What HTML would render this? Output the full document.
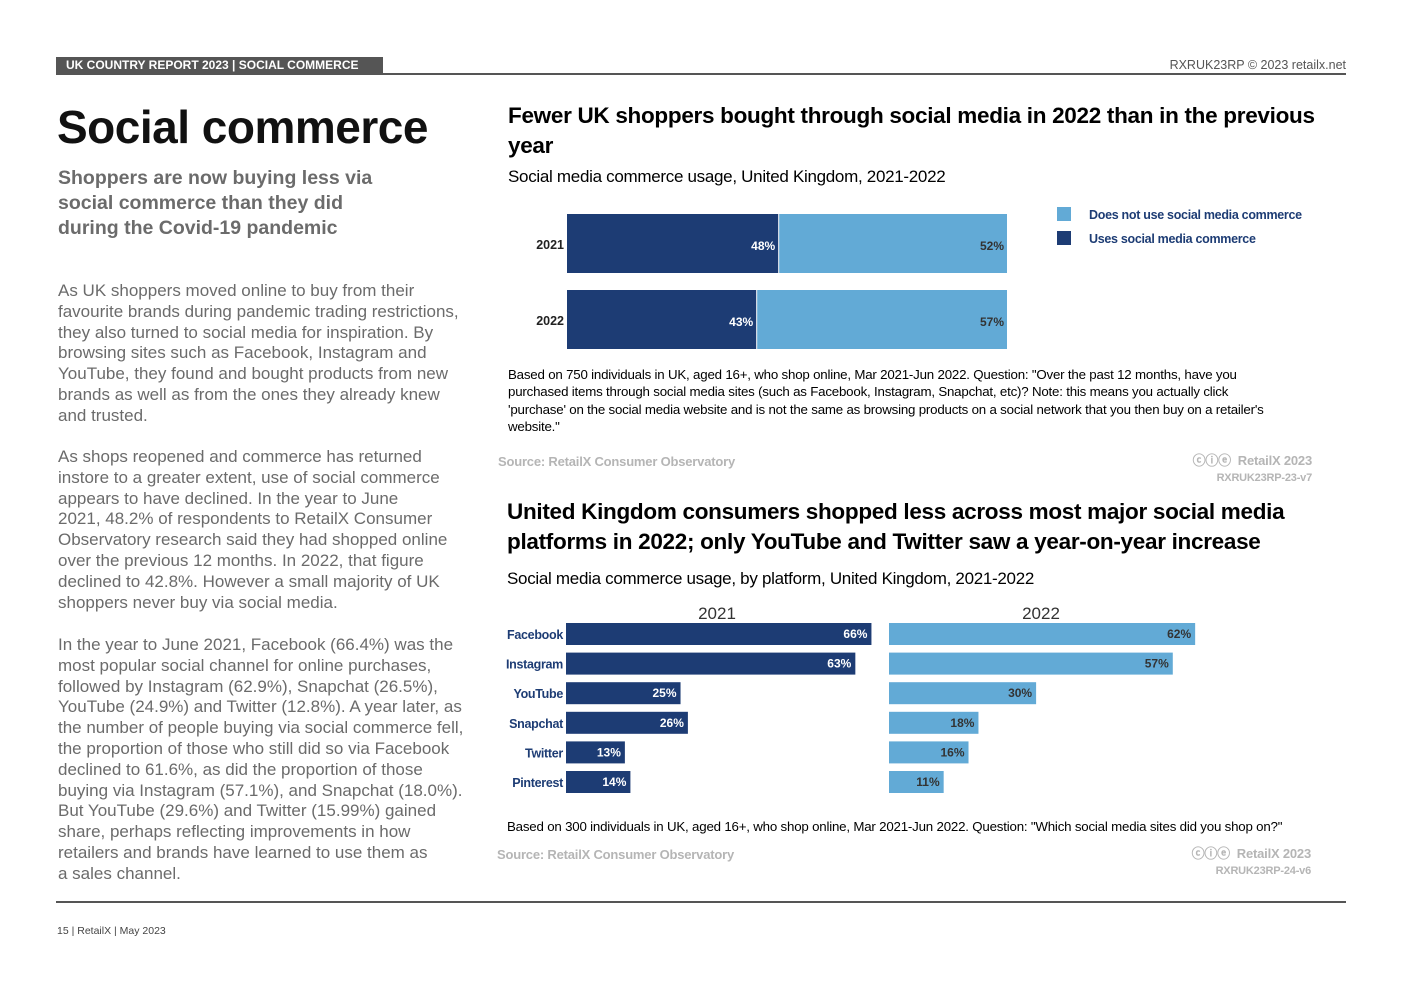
<!DOCTYPE html>
<html><head><meta charset="utf-8">
<style>
*{margin:0;padding:0;box-sizing:border-box}
body{width:1403px;height:992px;background:#fff;position:relative;font-family:"Liberation Sans",sans-serif;overflow:hidden}
.abs{position:absolute}
.body-text{color:#6b6b6b;font-size:17px;line-height:20.8px;left:58px;width:440px;white-space:nowrap}
.ct{color:#000;font-weight:bold;font-size:22.5px;letter-spacing:-0.3px;line-height:30px}
.sub{font-size:17px;color:#000;letter-spacing:-0.3px}
.note{font-size:13.3px;line-height:17.3px;color:#000;letter-spacing:-0.2px;white-space:nowrap}
.src{font-size:13px;font-weight:bold;color:#b5b5b5;letter-spacing:-0.2px}
svg text{font-family:"Liberation Sans",sans-serif}
</style></head><body>
<div class="abs" style="left:56px;top:57px;width:327px;height:17px;background:#555;color:#fff;font-size:12px;font-weight:bold;line-height:17px;padding-left:10px">UK COUNTRY REPORT 2023 | SOCIAL COMMERCE</div>
<div class="abs" style="left:56px;top:73px;width:1290px;height:2px;background:#555"></div>
<div class="abs" style="right:57px;top:58px;font-size:12.5px;color:#555">RXRUK23RP © 2023 retailx.net</div>

<div class="abs" style="left:57px;top:100px;font-size:46px;font-weight:bold;color:#111;letter-spacing:-0.5px">Social commerce</div>
<div class="abs" style="left:58px;top:166px;font-size:19.5px;font-weight:bold;color:#6b6b6b;line-height:25px">Shoppers are now buying less via<br>social commerce than they did<br>during the Covid-19 pandemic</div>

<div class="abs body-text" style="top:281px">As UK shoppers moved online to buy from their<br>favourite brands during pandemic trading restrictions,<br>they also turned to social media for inspiration. By<br>browsing sites such as Facebook, Instagram and<br>YouTube, they found and bought products from new<br>brands as well as from the ones they already knew<br>and trusted.</div>
<div class="abs body-text" style="top:447px">As shops reopened and commerce has returned<br>instore to a greater extent, use of social commerce<br>appears to have declined. In the year to June<br>2021, 48.2% of respondents to RetailX Consumer<br>Observatory research said they had shopped online<br>over the previous 12 months. In 2022, that figure<br>declined to 42.8%. However a small majority of UK<br>shoppers never buy via social media.</div>
<div class="abs body-text" style="top:635px">In the year to June 2021, Facebook (66.4%) was the<br>most popular social channel for online purchases,<br>followed by Instagram (62.9%), Snapchat (26.5%),<br>YouTube (24.9%) and Twitter (12.8%). A year later, as<br>the number of people buying via social commerce fell,<br>the proportion of those who still did so via Facebook<br>declined to 61.6%, as did the proportion of those<br>buying via Instagram (57.1%), and Snapchat (18.0%).<br>But YouTube (29.6%) and Twitter (15.99%) gained<br>share, perhaps reflecting improvements in how<br>retailers and brands have learned to use them as<br>a sales channel.</div>

<!-- Chart 1 -->
<div class="abs ct" style="left:508px;top:101px;width:820px">Fewer UK shoppers bought through social media in 2022 than in the previous<br>year</div>
<div class="abs sub" style="left:508px;top:167px">Social media commerce usage, United Kingdom, 2021-2022</div>
<svg class="abs" id="c1" style="left:0;top:0" width="1403" height="992"></svg>
<div class="abs note" style="left:508px;top:366px">Based on 750 individuals in UK, aged 16+, who shop online, Mar 2021-Jun 2022. Question: "Over the past 12 months, have you<br>purchased items through social media sites (such as Facebook, Instagram, Snapchat, etc)? Note: this means you actually click<br>'purchase' on the social media website and is not the same as browsing products on a social network that you then buy on a retailer's<br>website."</div>
<div class="abs src" style="left:498px;top:454px">Source: RetailX Consumer Observatory</div>
<div class="abs src" style="right:91px;top:453px;text-align:right;line-height:16px">ⓒⓘⓔ &nbsp;RetailX 2023<br><span style="font-size:11px">RXRUK23RP-23-v7</span></div>

<!-- Chart 2 -->
<div class="abs ct" style="left:507px;top:497px;width:840px">United Kingdom consumers shopped less across most major social media<br>platforms in 2022; only YouTube and Twitter saw a year-on-year increase</div>
<div class="abs sub" style="left:507px;top:569px">Social media commerce usage, by platform, United Kingdom, 2021-2022</div>
<svg class="abs" id="c2" style="left:0;top:0" width="1403" height="992"></svg>
<div class="abs note" style="left:507px;top:818px">Based on 300 individuals in UK, aged 16+, who shop online, Mar 2021-Jun 2022. Question: "Which social media sites did you shop on?"</div>
<div class="abs src" style="left:497px;top:847px">Source: RetailX Consumer Observatory</div>
<div class="abs src" style="right:92px;top:846px;text-align:right;line-height:16px">ⓒⓘⓔ &nbsp;RetailX 2023<br><span style="font-size:11px">RXRUK23RP-24-v6</span></div>

<div class="abs" style="left:56px;top:901px;width:1290px;height:2px;background:#555"></div>
<div class="abs" style="left:57px;top:925px;font-size:10.5px;color:#444">15 | RetailX | May 2023</div>

<script>
const DARK='#1d3c74', LIGHT='#62aad6';
const years=['2021','2022'];
const usesVals=[48,43];
const notUsesVals=[52,57];
const platforms=['Facebook','Instagram','YouTube','Snapchat','Twitter','Pinterest'];
const vals2021=[66.4,62.9,24.9,26.5,12.8,14.0];
const vals2022=[61.6,57.1,29.6,18.0,16.0,11.0];
const labels2021=['66%','63%','25%','26%','13%','14%'];
const labels2022=['62%','57%','30%','18%','16%','11%'];
const NS='http://www.w3.org/2000/svg';
function mk(svg,tag,attrs,txt){const e=document.createElementNS(NS,tag);for(const k in attrs)e.setAttribute(k,attrs[k]);if(txt!==undefined)e.textContent=txt;svg.appendChild(e);return e;}

const c1=document.getElementById('c1');
const x1=v=>567+v*4.4;
const y1=i=>214+i*76;
years.forEach((yr,i)=>{
  const t=mk(c1,'text',{x:564,y:y1(i)+35,'text-anchor':'end','font-size':12.5,'font-weight':'bold',fill:'#222'},yr);
  
  
  const tot=usesVals[i]+notUsesVals[i];
  const b=mk(c1,'rect',{x:x1(0),y:y1(i),width:x1(usesVals[i]/tot*100)-x1(0),height:59,fill:DARK});
  
  
  const b2=mk(c1,'rect',{x:x1(usesVals[i]/tot*100)+1,y:y1(i),width:x1(100)-x1(usesVals[i]/tot*100)-1,height:59,fill:LIGHT});
  
  
  const l=mk(c1,'text',{x:x1(usesVals[i]/tot*100)-3,y:y1(i)+36,'text-anchor':'end','font-size':12,'font-weight':'bold',fill:'#fff'},usesVals[i]+'%');
  
  
  const l2=mk(c1,'text',{x:x1(100)-3,y:y1(i)+36,'text-anchor':'end','font-size':12,'font-weight':'bold',fill:'#333'},notUsesVals[i]+'%');
  
  
});
const legend=[['Does not use social media commerce',LIGHT],['Uses social media commerce',DARK]];
legend.forEach((lg,i)=>{
  const r=mk(c1,'rect',{x:1057,y:207+i*24,width:14,height:14,fill:lg[1]});
  
  
  const t=mk(c1,'text',{x:1089,y:219+i*24,'font-size':12.5,'font-weight':'bold',fill:'#1d3c74','letter-spacing':'-0.3'},lg[0]);
  
  
});

const c2=document.getElementById('c2');
const xa=v=>566+v*4.6;
const xb=v=>889+v*4.97;
const y2=i=>623+i*29.6;
[['2021',717],['2022',1041]].forEach(p=>{
  const t=mk(c2,'text',{x:p[1],y:619,'text-anchor':'middle','font-size':17,fill:'#333'},p[0]);
  
  
});
platforms.forEach((pl,i)=>{
  const t=mk(c2,'text',{x:563,y:y2(i)+16,'text-anchor':'end','font-size':12.5,'font-weight':'bold',fill:'#1d3c74','letter-spacing':'-0.3'},pl);
  
  
  const a=mk(c2,'rect',{x:xa(0),y:y2(i),width:xa(vals2021[i])-xa(0),height:22,fill:DARK});
  
  
  const la=mk(c2,'text',{x:xa(vals2021[i])-4,y:y2(i)+15,'text-anchor':'end','font-size':12,'font-weight':'bold',fill:'#fff'},labels2021[i]);
  
  
  const b=mk(c2,'rect',{x:xb(0),y:y2(i),width:xb(vals2022[i])-xb(0),height:22,fill:LIGHT});
  
  
  const lb=mk(c2,'text',{x:xb(vals2022[i])-4,y:y2(i)+15,'text-anchor':'end','font-size':12,'font-weight':'bold',fill:'#333'},labels2022[i]);
  
  
});
</script>
</body></html>
